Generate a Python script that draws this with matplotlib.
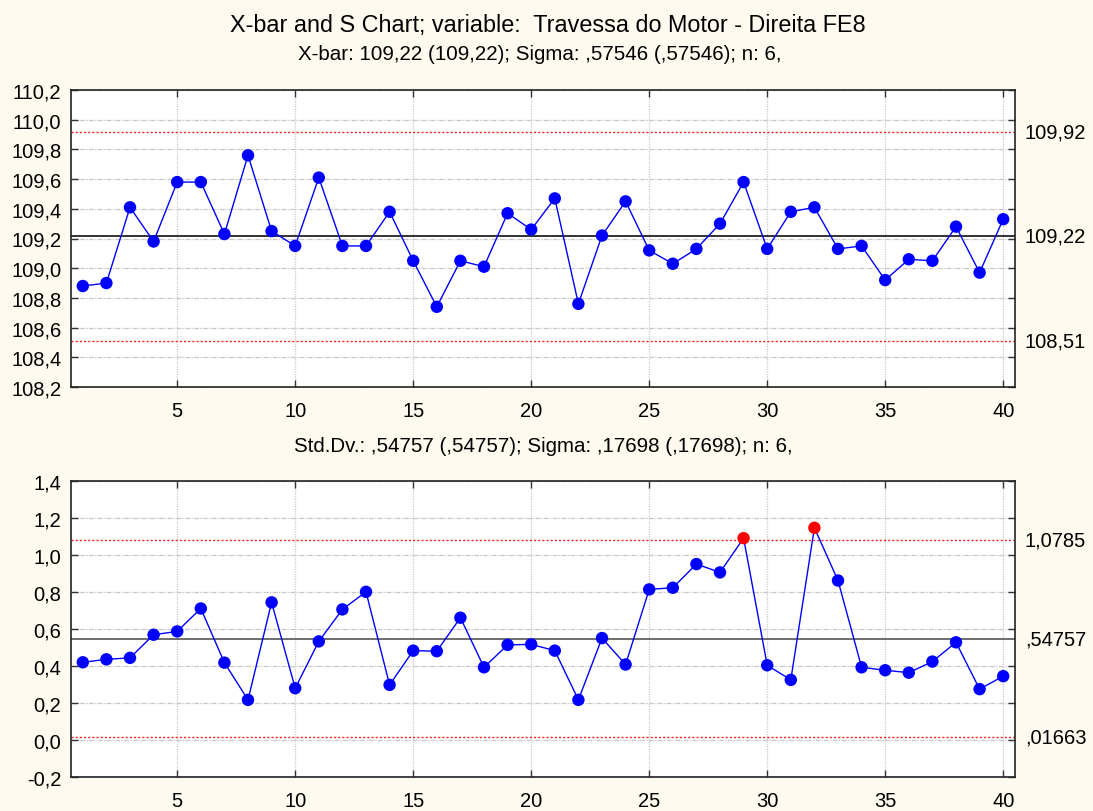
import matplotlib
matplotlib.use("Agg")
import matplotlib.pyplot as plt
import matplotlib.transforms as mtransforms
import numpy as np

plt.rcParams['font.family'] = ['Liberation Sans', 'DejaVu Sans']

samples = list(range(1, 41))
xbar = [108.88, 108.90, 109.41, 109.18, 109.58, 109.58, 109.23, 109.76, 109.25, 109.15,
        109.61, 109.15, 109.15, 109.38, 109.05, 108.74, 109.05, 109.01, 109.37, 109.26,
        109.47, 108.76, 109.22, 109.45, 109.12, 109.03, 109.13, 109.30, 109.58, 109.13,
        109.38, 109.41, 109.13, 109.15, 108.92, 109.06, 109.05, 109.28, 108.97, 109.33]
sdev = [0.420, 0.436, 0.444, 0.569, 0.587, 0.711, 0.418, 0.217, 0.744, 0.280,
        0.533, 0.706, 0.801, 0.298, 0.483, 0.480, 0.661, 0.393, 0.514, 0.517,
        0.483, 0.217, 0.551, 0.408, 0.814, 0.823, 0.951, 0.906, 1.091, 0.404,
        0.325, 1.147, 0.862, 0.393, 0.377, 0.364, 0.424, 0.528, 0.275, 0.345]

xbar_limits = [109.92, 109.22, 108.51]
xbar_limit_labels = ['109,92', '109,22', '108,51']
s_limits = [1.0785, 0.54757, 0.01663]
s_limit_labels = ['1,0785', ',54757', ',01663']

xbar_yticks = [108.2, 108.4, 108.6, 108.8, 109.0, 109.2, 109.4, 109.6, 109.8, 110.0, 110.2]
s_yticks = [-0.2, 0.0, 0.2, 0.4, 0.6, 0.8, 1.0, 1.2, 1.4]
xticks = [5, 10, 15, 20, 25, 30, 35, 40]

title = "X-bar and S Chart; variable:  Travessa do Motor - Direita FE8"
sub1 = "X-bar: 109,22 (109,22); Sigma: ,57546 (,57546); n: 6,"
sub2 = "Std.Dv.: ,54757 (,54757); Sigma: ,17698 (,17698); n: 6,"

BG = '#FEFAEF'
fig = plt.figure(figsize=(10.93, 8.12), dpi=100, facecolor=BG)

W, H = 1093, 812
def axrect(l, t, r, b):
    return [l / W, 1 - b / H, (r - l) / W, (b - t) / H]

ax1 = fig.add_axes(axrect(71, 91, 1015, 388))
ax2 = fig.add_axes(axrect(71, 482, 1015, 778))

TICK_FS = 14.5

def fmt(v, dec):
    return f"{v:.{dec}f}".replace('.', ',')

def style(ax, yticks, dec, ylim):
    ax.set_facecolor('white')
    ax.set_xlim(0.5, 40.5)
    ax.set_ylim(*ylim)
    ax.set_xticks(xticks)
    ax.set_xticklabels([str(t) for t in xticks])
    ax.set_yticks(yticks)
    ax.set_yticklabels([fmt(t, dec) for t in yticks])
    ax.tick_params(axis='both', direction='in', length=5, width=1, color='#333333',
                   labelsize=TICK_FS, top=True, right=True, labelcolor='black')
    ax.tick_params(axis='x', pad=10)
    ax.tick_params(axis='y', pad=7)
    ax.xaxis.grid(True, color='#C8C8C8', linestyle=(0, (1, 1)), linewidth=0.9)
    ax.yaxis.grid(True, color='#C8C8C8', linestyle=(0, (4, 1, 1, 1)), linewidth=0.9)
    ax.set_axisbelow(True)
    for sp in ax.spines.values():
        sp.set_linewidth(1.2)
        sp.set_color('#222222')

def draw(ax, x, y, limits, labels, clcolor):
    ucl, cl, lcl = limits
    ax.axhline(ucl, color='#FF2020', linestyle=(0, (1.5, 1.5)), linewidth=1.0, zorder=2)
    ax.axhline(lcl, color='#FF2020', linestyle=(0, (1.5, 1.5)), linewidth=1.0, zorder=2)
    ax.axhline(cl, color=clcolor, linestyle='-', linewidth=1.2, zorder=2)
    ax.plot(x, y, color='#0000FF', linewidth=1.0, zorder=3)
    cols = ['#FF0000' if (v > ucl or v < lcl) else '#0000FF' for v in y]
    ax.scatter(x, y, s=80, c=cols, zorder=4, linewidths=0)
    tr = mtransforms.blended_transform_factory(ax.transAxes, ax.transData)
    for v, lab in zip(limits, labels):
        ax.text(1.0 + 10 / 944, v, lab, transform=tr, ha='left', va='center',
                fontsize=TICK_FS)

style(ax1, xbar_yticks, 1, (108.2, 110.2))
style(ax2, s_yticks, 1, (-0.2, 1.4))
draw(ax1, samples, xbar, xbar_limits, xbar_limit_labels, '#111111')
draw(ax2, samples, sdev, s_limits, s_limit_labels, '#555555')

fig.text(548 / W, 1 - 25.5 / H, title, ha='center', va='center', fontsize=16.8)
fig.text(540 / W, 1 - 55 / H, sub1, ha='center', va='center', fontsize=14.8)
fig.text(543 / W, 1 - 446 / H, sub2, ha='center', va='center', fontsize=14.8)

fig.savefig('out.png', dpi=100, facecolor=BG)
